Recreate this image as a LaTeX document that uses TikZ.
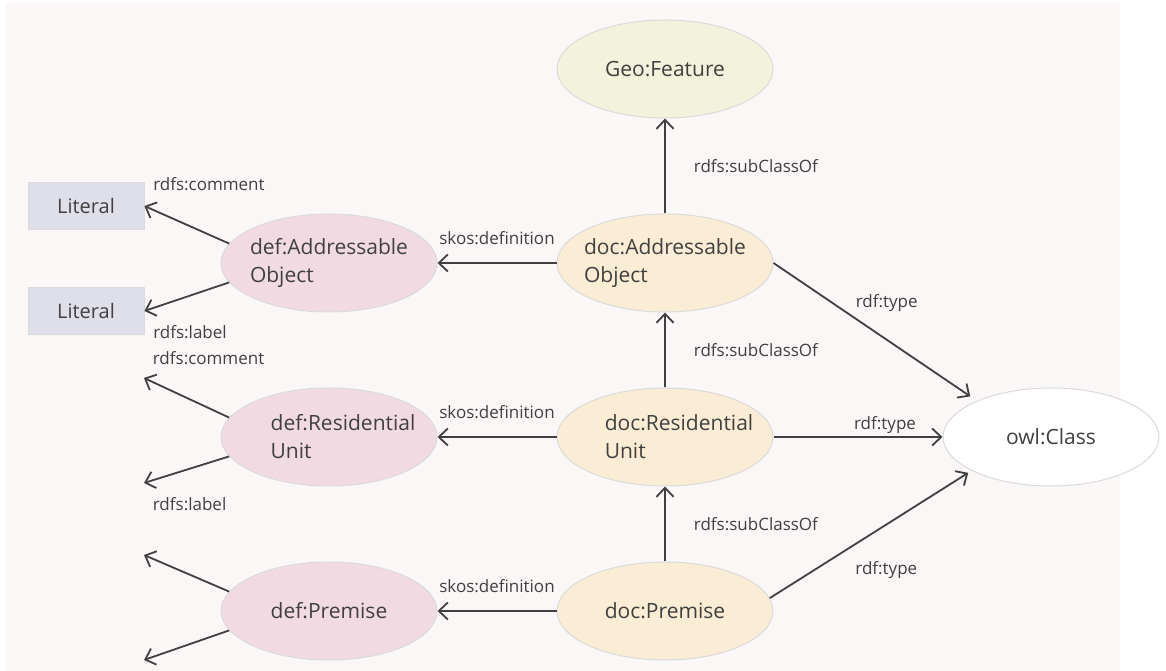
\documentclass[tikz,border=0pt]{standalone}
\usepackage{fontspec}
\setmainfont{Open Sans}
\usetikzlibrary{positioning}
\usetikzlibrary{shapes.geometric}
\usetikzlibrary{arrows.meta}

\definecolor{panelbg}{HTML}{FBF7F6}
\definecolor{inkgray}{HTML}{404040}
\definecolor{rimgray}{HTML}{DADADA}
\definecolor{docfill}{HTML}{FBEDD5}
\definecolor{deffill}{HTML}{F2DAE3}
\definecolor{geofill}{HTML}{F3F2DC}
\definecolor{litfill}{HTML}{DFDFEA}

% shift a line to the right without widening its box
\newcommand{\nudge}[1]{\mbox{\hspace*{14pt}#1\hspace*{-14pt}}}

\begin{document}
\begin{tikzpicture}[
  x=1pt, y=1pt,
  node distance=75pt and 119pt,
  every node/.style={text=inkgray},
  classnode/.style={draw=rimgray,line width=1pt,ellipse,minimum width=216pt,minimum height=98pt,inner xsep=-16pt,inner ysep=0pt,align=left,font=\fontsize{21}{28}\selectfont},
  docnode/.style={classnode,fill=docfill},
  defnode/.style={classnode,fill=deffill},
  litnode/.style={draw=rimgray,fill=litfill,line width=0.8pt,minimum width=116pt,minimum height=47pt,inner sep=0pt,font=\fontsize{20}{24}\selectfont},
  lbl/.style={inner sep=0pt,font=\fontsize{17}{20}\selectfont},
  arr/.style={draw=inkgray,line width=1.8pt,-{Straight Barb[length=9pt,width=17pt]}}
]
\useasboundingbox (0,0) rectangle (1166,671);
\fill[panelbg] (6,0) rectangle (1120,668);

\node[docnode] (docao) at (665,408) {doc:Addressable\\Object};
\node[classnode,fill=geofill,above=95pt of docao] (geo) {Geo:Feature};
\node[docnode,below=of docao] (docru) {\nudge{doc:Residential}\\\nudge{Unit}};
\node[docnode,below=of docru] (docpr) {doc:Premise};

\node[defnode,left=of docao] (defao) {def:Addressable\\Object};
\node[defnode,left=of docru] (defru) {\nudge{def:Residential}\\\nudge{Unit}};
\node[defnode,left=of docpr] (defpr) {def:Premise};

\node[classnode,fill=white,right=169pt of docru] (owl) {owl:Class};

\node[litnode] (lit1) at (86,465) {Literal};
\node[litnode] (lit2) at (86,360) {Literal};

\coordinate (rucom) at (144,293);
\coordinate (rulab) at (144,188);
\coordinate (prcom) at (144,116);
\coordinate (prlab) at (144,11);

\path (docao) edge[arr] node[lbl,midway,right=28pt] {rdfs:subClassOf} (geo)
(docru) edge[arr] node[lbl,midway,right=28pt] {rdfs:subClassOf} (docao)
(docpr) edge[arr] node[lbl,midway,right=28pt] {rdfs:subClassOf} (docru)
(docao.west) edge[arr] node[lbl,midway,above=17pt] {skos:definition} (defao.east)
(docru.west) edge[arr] node[lbl,midway,above=17pt] {skos:definition} (defru.east)
(docpr.west) edge[arr] node[lbl,midway,above=17pt] {skos:definition} (defpr.east)
(docao.east) edge[arr,shorten >=8pt] node[lbl,pos=0.4,anchor=south west,yshift=6pt] {rdf:type} (owl.154)
(docru.east) edge[arr] node[lbl,pos=0.66,above=3pt] {rdf:type} (owl.west)
(docpr.7.7) edge[arr,shorten >=4pt] node[lbl,pos=0.42,anchor=north west,yshift=-16pt] {rdf:type} (owl.203.7)
(defao.169) edge[arr] node[lbl,pos=1,anchor=south west,xshift=8pt,yshift=14pt] {rdfs:comment} (lit1.east)
(defao.191) edge[arr] node[lbl,pos=1,anchor=north west,xshift=8pt,yshift=-14pt] {rdfs:label} (lit2.east)
(defru.169) edge[arr] node[lbl,pos=1,anchor=south west,xshift=8pt,yshift=12pt] {rdfs:comment} (rucom)
(defru.191) edge[arr] node[lbl,pos=1,anchor=north west,xshift=8pt,yshift=-14pt] {rdfs:label} (rulab)
(defpr.169) edge[arr] (prcom)
(defpr.191) edge[arr] (prlab)
;

\end{tikzpicture}
\end{document}
